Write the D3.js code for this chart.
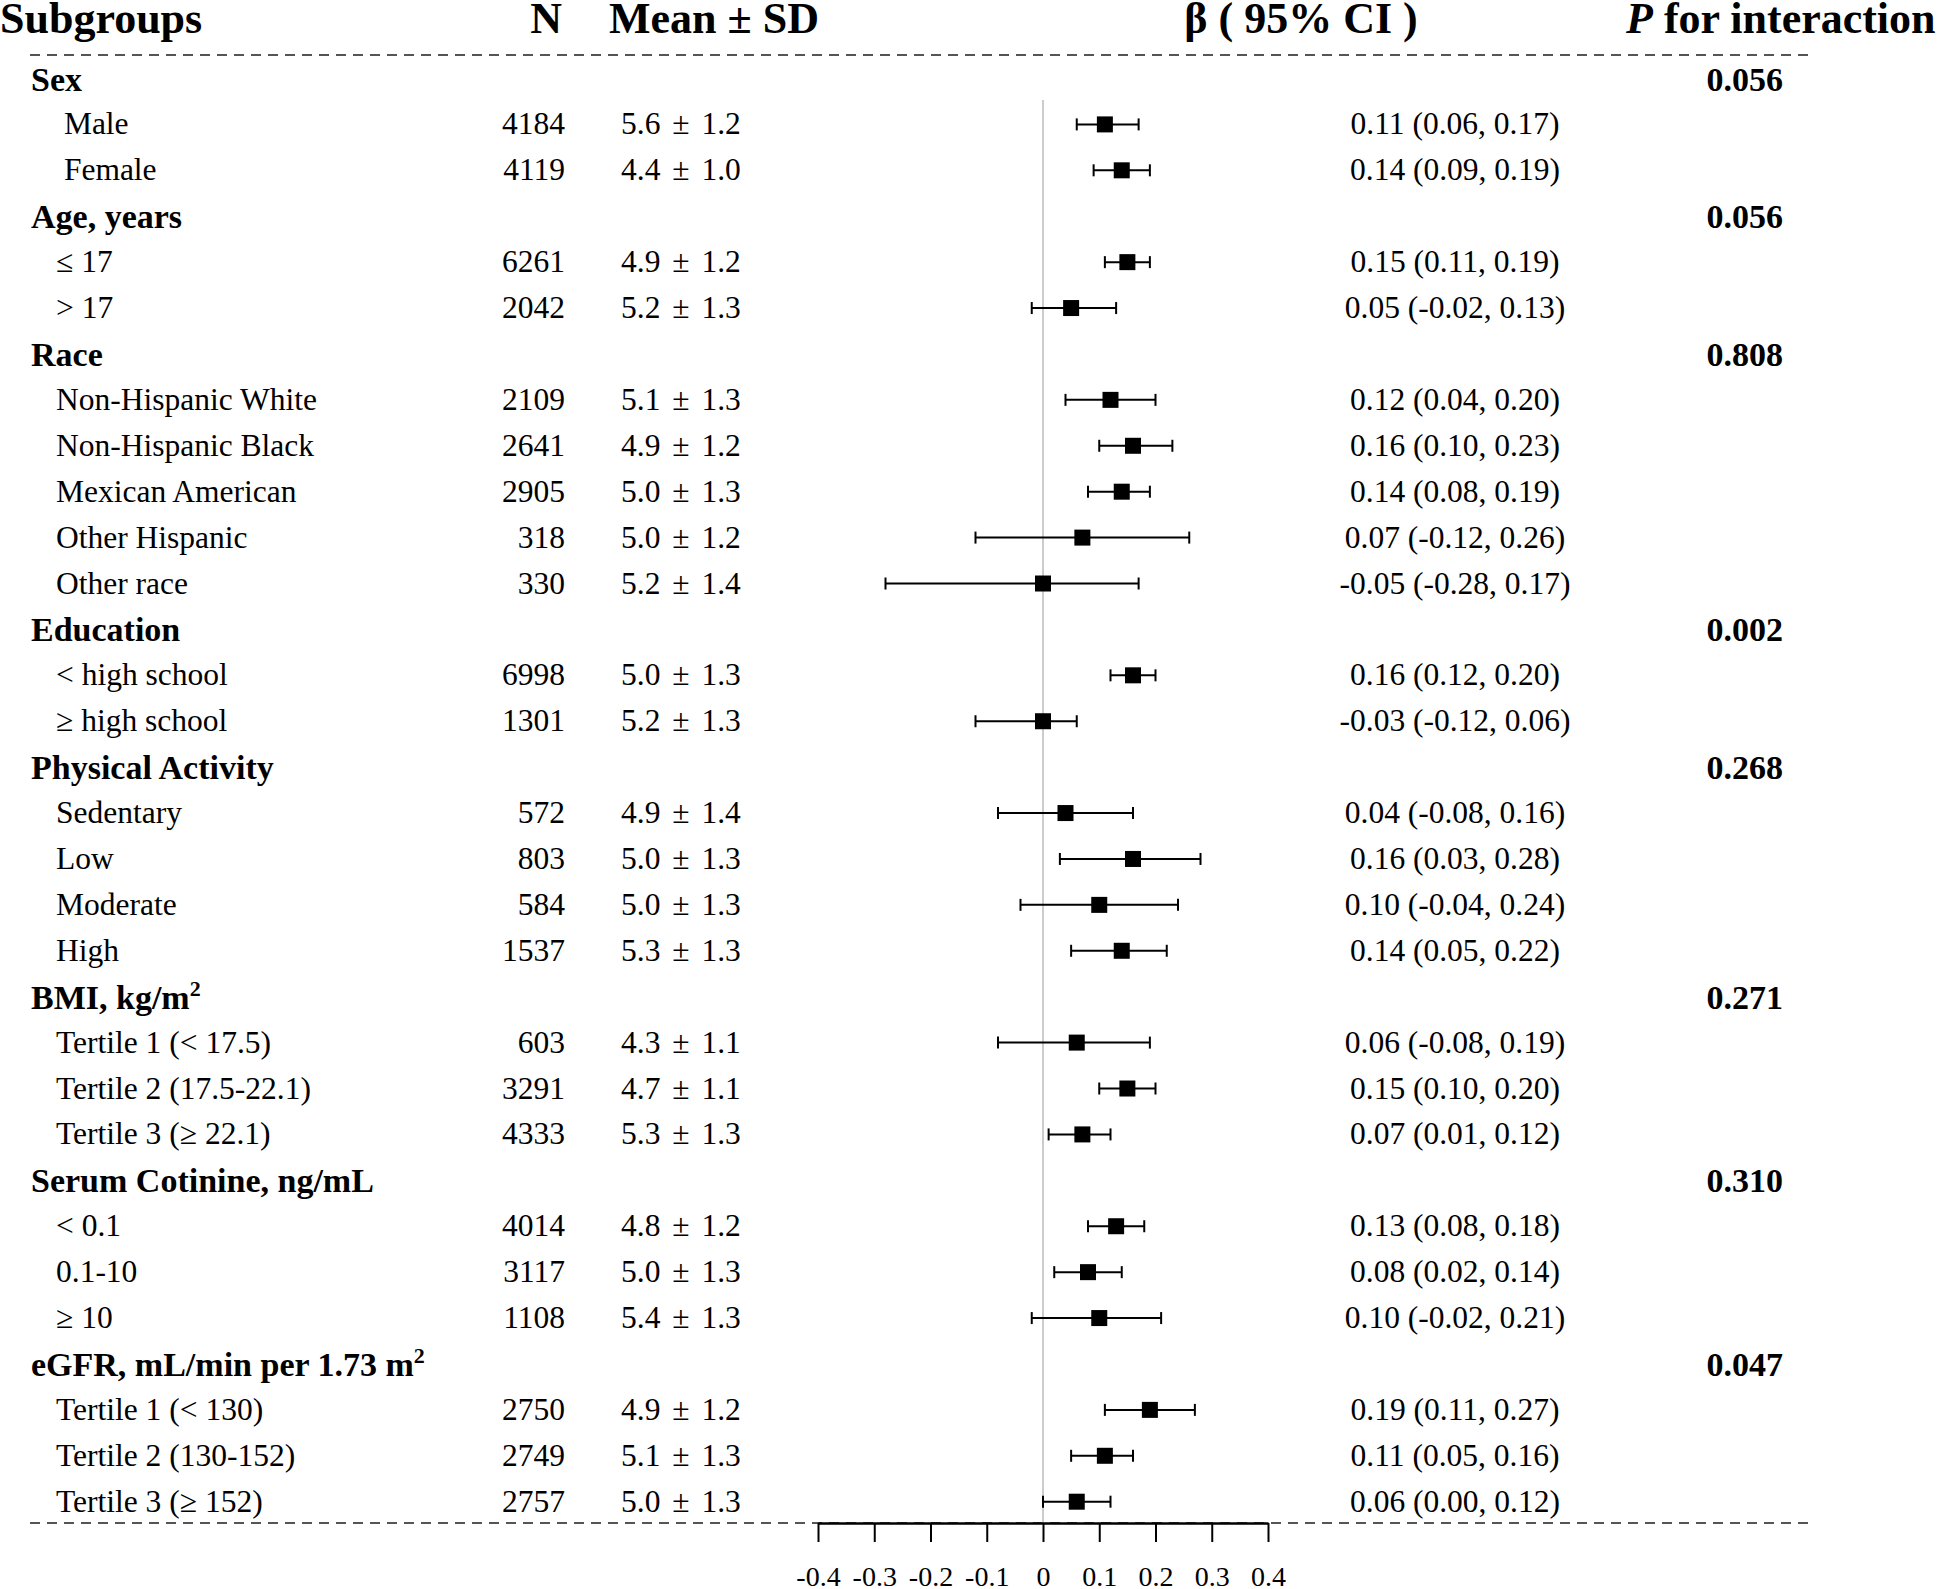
<!DOCTYPE html>
<html><head><meta charset="utf-8">
<script src="https://cdn.jsdelivr.net/npm/d3@7"></script>
<style>
body{margin:0;background:#fff}
svg{display:block}
text{font-family:"Liberation Serif","Times New Roman",serif;fill:#000}
</style>
</head><body>
<svg id="chart" width="1946" height="1589"></svg>
<script>
// ---------------- data ----------------
const headers = ["Subgroups", "N", "Mean ± SD", "β ( 95% CI )", "for interaction"];
const groupNames = ["Sex", "Age, years", "Race", "Education", "Physical Activity", "BMI, kg/m^2", "Serum Cotinine, ng/mL", "eGFR, mL/min per 1.73 m^2"];
const groupP = ["0.056", "0.056", "0.808", "0.002", "0.268", "0.271", "0.310", "0.047"];
const groupSizes = [2, 2, 5, 2, 4, 3, 3, 3];
const subLabels = [" Male", " Female", "≤ 17", "> 17",
  "Non-Hispanic White", "Non-Hispanic Black", "Mexican American", "Other Hispanic", "Other race",
  "< high school", "≥ high school",
  "Sedentary", "Low", "Moderate", "High",
  "Tertile 1 (< 17.5)", "Tertile 2 (17.5-22.1)", "Tertile 3 (≥ 22.1)",
  "< 0.1", "0.1-10", "≥ 10",
  "Tertile 1 (< 130)", "Tertile 2 (130-152)", "Tertile 3 (≥ 152)"];
const nValues = ["4184", "4119", "6261", "2042", "2109", "2641", "2905", "318", "330", "6998", "1301",
  "572", "803", "584", "1537", "603", "3291", "4333", "4014", "3117", "1108", "2750", "2749", "2757"];
const meanSD = ["5.6 ± 1.2", "4.4 ± 1.0", "4.9 ± 1.2", "5.2 ± 1.3", "5.1 ± 1.3", "4.9 ± 1.2", "5.0 ± 1.3",
  "5.0 ± 1.2", "5.2 ± 1.4", "5.0 ± 1.3", "5.2 ± 1.3", "4.9 ± 1.4", "5.0 ± 1.3", "5.0 ± 1.3", "5.3 ± 1.3",
  "4.3 ± 1.1", "4.7 ± 1.1", "5.3 ± 1.3", "4.8 ± 1.2", "5.0 ± 1.3", "5.4 ± 1.3", "4.9 ± 1.2", "5.1 ± 1.3", "5.0 ± 1.3"];
// box positions as drawn in the figure
const estimate = [0.11, 0.14, 0.15, 0.05, 0.12, 0.16, 0.14, 0.07, 0.00, 0.16, 0.00,
  0.04, 0.16, 0.10, 0.14, 0.06, 0.15, 0.07, 0.13, 0.08, 0.10, 0.19, 0.11, 0.06];
const lower = [0.06, 0.09, 0.11, -0.02, 0.04, 0.10, 0.08, -0.12, -0.28, 0.12, -0.12,
  -0.08, 0.03, -0.04, 0.05, -0.08, 0.10, 0.01, 0.08, 0.02, -0.02, 0.11, 0.05, 0.00];
const upper = [0.17, 0.19, 0.19, 0.13, 0.20, 0.23, 0.19, 0.26, 0.17, 0.20, 0.06,
  0.16, 0.28, 0.24, 0.22, 0.19, 0.20, 0.12, 0.18, 0.14, 0.21, 0.27, 0.16, 0.12];
const ciText = ["0.11 (0.06, 0.17)", "0.14 (0.09, 0.19)", "0.15 (0.11, 0.19)", "0.05 (-0.02, 0.13)",
  "0.12 (0.04, 0.20)", "0.16 (0.10, 0.23)", "0.14 (0.08, 0.19)", "0.07 (-0.12, 0.26)", "-0.05 (-0.28, 0.17)",
  "0.16 (0.12, 0.20)", "-0.03 (-0.12, 0.06)", "0.04 (-0.08, 0.16)", "0.16 (0.03, 0.28)", "0.10 (-0.04, 0.24)",
  "0.14 (0.05, 0.22)", "0.06 (-0.08, 0.19)", "0.15 (0.10, 0.20)", "0.07 (0.01, 0.12)", "0.13 (0.08, 0.18)",
  "0.08 (0.02, 0.14)", "0.10 (-0.02, 0.21)", "0.19 (0.11, 0.27)", "0.11 (0.05, 0.16)", "0.06 (0.00, 0.12)"];
const xTicks = [-0.4, -0.3, -0.2, -0.1, 0, 0.1, 0.2, 0.3, 0.4];
const xTickLabels = ["-0.4", "-0.3", "-0.2", "-0.1", "0", "0.1", "0.2", "0.3", "0.4"];

// ---------------- build rows ----------------
const rows = [];
let k = 0;
groupNames.forEach((g, gi) => {
  rows.push({type: "group", label: g, p: groupP[gi]});
  for (let j = 0; j < groupSizes[gi]; j++, k++) {
    rows.push({type: "item", label: subLabels[k], n: nValues[k], ms: meanSD[k],
      est: estimate[k], lo: lower[k], hi: upper[k], ci: ciText[k]});
  }
});

// ---------------- layout ----------------
const svg = d3.select("#chart");
const x = d3.scaleLinear().domain([-0.4, 0.4]).range([818, 1268]);
const y = d3.scaleLinear().domain([0, rows.length - 1]).range([78.5, 1501.7]);
const axisY = 1523;
const bodySize = 31.5, groupSize = 34, headSize = 44;

function addSup(sel, str) {
  const parts = str.split("^");
  sel.append("tspan").text(parts[0]);
  if (parts.length > 1) {
    sel.append("tspan").attr("dy", -13).attr("font-size", 22).text(parts[1]);
  }
}

// header
const hd = svg.append("g").attr("font-weight", "bold").attr("font-size", headSize);
hd.append("text").attr("x", 0).attr("y", 33).text(headers[0]);
hd.append("text").attr("x", 562).attr("y", 33).attr("text-anchor", "end").text(headers[1]);
hd.append("text").attr("x", 609).attr("y", 33).text(headers[2]);
hd.append("text").attr("x", 1301).attr("y", 33).attr("text-anchor", "middle").text(headers[3]);
const pt = hd.append("text").attr("x", 1626).attr("y", 33);
pt.append("tspan").attr("font-style", "italic").text("P");
pt.append("tspan").text(" " + headers[4]);

// dashed separators
[55, axisY].forEach(yy => {
  svg.append("line").attr("x1", 30).attr("x2", 1813).attr("y1", yy).attr("y2", yy)
    .attr("stroke", "#555").attr("stroke-width", 2).attr("stroke-dasharray", "10,7");
});

// zero line
svg.append("line").attr("x1", x(0)).attr("x2", x(0)).attr("y1", 100).attr("y2", axisY)
  .attr("stroke", "#cccccc").attr("stroke-width", 2);

// rows
const rg = svg.append("g");
rows.forEach((r, i) => {
  const yc = y(i);
  if (r.type === "group") {
    const t = rg.append("text").attr("x", 31).attr("y", yc + 12)
      .attr("font-weight", "bold").attr("font-size", groupSize);
    addSup(t, r.label);
    rg.append("text").attr("x", 1783).attr("y", yc + 12).attr("text-anchor", "end")
      .attr("font-weight", "bold").attr("font-size", groupSize).text(r.p);
  } else {
    rg.append("text").attr("x", 56).attr("y", yc + 10).attr("font-size", bodySize)
      .style("white-space", "pre").text(r.label);
    rg.append("text").attr("x", 565).attr("y", yc + 10).attr("text-anchor", "end")
      .attr("font-size", bodySize).text(r.n);
    rg.append("text").attr("x", 621).attr("y", yc + 10).attr("font-size", bodySize)
      .attr("word-spacing", 4).text(r.ms);
    rg.append("text").attr("x", 1455).attr("y", yc + 10).attr("text-anchor", "middle")
      .attr("font-size", bodySize).text(r.ci);
    // CI line
    rg.append("line").attr("x1", x(r.lo)).attr("x2", x(r.hi)).attr("y1", yc).attr("y2", yc)
      .attr("stroke", "#000").attr("stroke-width", 2);
    [r.lo, r.hi].forEach(v => {
      rg.append("line").attr("x1", x(v)).attr("x2", x(v)).attr("y1", yc - 6).attr("y2", yc + 6)
        .attr("stroke", "#000").attr("stroke-width", 2);
    });
    rg.append("rect").attr("x", x(r.est) - 8).attr("y", yc - 8).attr("width", 16).attr("height", 16)
      .attr("fill", "#000");
  }
});

// axis
const axis = d3.axisBottom(x).tickValues(xTicks).tickFormat((d, i) => xTickLabels[i])
  .tickSize(19).tickSizeOuter(0).tickPadding(24);
const ag = svg.append("g").attr("transform", `translate(0,${axisY})`).call(axis);
ag.select(".domain").attr("stroke", "#000").attr("stroke-width", 2.5);
ag.selectAll(".tick line").attr("stroke", "#000").attr("stroke-width", 2);
ag.selectAll(".tick text").attr("font-family", '"Liberation Serif","Times New Roman",serif')
  .attr("font-size", 28).attr("fill", "#000");
</script>
</body></html>
